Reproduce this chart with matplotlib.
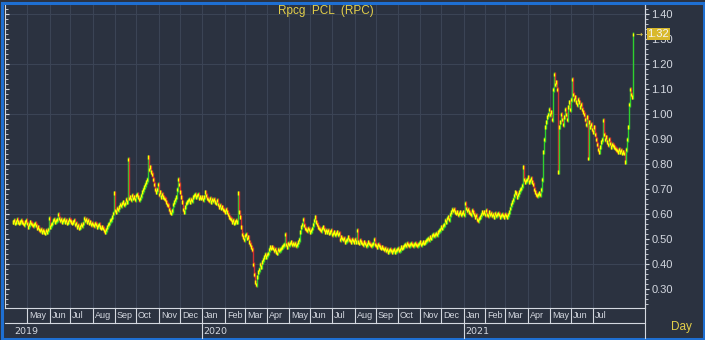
import numpy as np
import pandas as pd
import matplotlib
matplotlib.use("Agg")
import matplotlib.pyplot as plt
from matplotlib.lines import Line2D
from matplotlib.patches import Rectangle
from matplotlib.transforms import blended_transform_factory
from matplotlib.ticker import MultipleLocator, FormatStrFormatter

# daily closes, one per trading day starting 11 Apr 2019
closes = [
    0.57, 0.575, 0.565, 0.57, 0.58, 0.57, 0.565, 0.57, 0.575, 0.57,
    0.565, 0.56, 0.57, 0.575, 0.565, 0.55, 0.56, 0.57, 0.565, 0.56,
    0.555, 0.56, 0.565, 0.555, 0.545, 0.55, 0.54, 0.535, 0.54, 0.53,
    0.535, 0.53, 0.525, 0.535, 0.53, 0.54, 0.585, 0.55, 0.56, 0.565,
    0.575, 0.58, 0.57, 0.575, 0.58, 0.60, 0.585, 0.575, 0.58, 0.57,
    0.575, 0.58, 0.57, 0.575, 0.565, 0.57, 0.58, 0.575, 0.57, 0.565,
    0.57, 0.575, 0.56, 0.565, 0.55, 0.555, 0.545, 0.55, 0.56, 0.555,
    0.565, 0.585, 0.575, 0.58, 0.57, 0.575, 0.565, 0.57, 0.56, 0.565,
    0.56, 0.555, 0.565, 0.56, 0.55, 0.555, 0.56, 0.55, 0.545, 0.55,
    0.545, 0.535, 0.53, 0.54, 0.55, 0.56, 0.565, 0.575, 0.58, 0.59,
    0.605, 0.685, 0.615, 0.61, 0.625, 0.62, 0.63, 0.64, 0.635, 0.645,
    0.65, 0.64, 0.645, 0.66, 0.65, 0.82, 0.665, 0.67, 0.66, 0.675,
    0.665, 0.67, 0.66, 0.675, 0.68, 0.67, 0.66, 0.665, 0.675, 0.69,
    0.70, 0.71, 0.72, 0.73, 0.74, 0.83, 0.78, 0.79, 0.77, 0.76,
    0.74, 0.72, 0.70, 0.69, 0.70, 0.72, 0.68, 0.69, 0.67, 0.68,
    0.67, 0.665, 0.66, 0.65, 0.64, 0.635, 0.62, 0.61, 0.605, 0.615,
    0.64, 0.65, 0.66, 0.67, 0.70, 0.74, 0.72, 0.69, 0.67, 0.65,
    0.62, 0.61, 0.63, 0.645, 0.65, 0.655, 0.66, 0.65, 0.66, 0.655,
    0.67, 0.675, 0.68, 0.67, 0.675, 0.68, 0.665, 0.67, 0.665, 0.67,
    0.66, 0.67, 0.69, 0.675, 0.665, 0.66, 0.655, 0.665, 0.65, 0.66,
    0.655, 0.66, 0.65, 0.645, 0.655, 0.64, 0.63, 0.635, 0.625, 0.63,
    0.62, 0.615, 0.61, 0.62, 0.61, 0.60, 0.59, 0.585, 0.58, 0.57,
    0.575, 0.565, 0.57, 0.575, 0.57, 0.685, 0.61, 0.59, 0.55, 0.52,
    0.51, 0.50, 0.515, 0.52, 0.505, 0.51, 0.49, 0.48, 0.47, 0.46,
    0.40, 0.36, 0.33, 0.32, 0.35, 0.37, 0.38, 0.40, 0.39, 0.41,
    0.42, 0.43, 0.44, 0.43, 0.44, 0.445, 0.46, 0.47, 0.465, 0.47,
    0.465, 0.455, 0.46, 0.45, 0.445, 0.46, 0.455, 0.46, 0.465, 0.47,
    0.475, 0.48, 0.52, 0.48, 0.47, 0.485, 0.48, 0.485, 0.49, 0.48,
    0.485, 0.48, 0.485, 0.475, 0.48, 0.49, 0.50, 0.53, 0.55, 0.56,
    0.58, 0.555, 0.545, 0.54, 0.535, 0.545, 0.54, 0.53, 0.535, 0.545,
    0.56, 0.575, 0.59, 0.57, 0.56, 0.55, 0.545, 0.54, 0.535, 0.545,
    0.55, 0.54, 0.53, 0.535, 0.53, 0.535, 0.525, 0.53, 0.535, 0.52,
    0.525, 0.53, 0.52, 0.525, 0.53, 0.52, 0.525, 0.50, 0.51, 0.505,
    0.50, 0.505, 0.49, 0.495, 0.50, 0.51, 0.50, 0.495, 0.49, 0.50,
    0.495, 0.49, 0.50, 0.49, 0.535, 0.49, 0.485, 0.495, 0.49, 0.485,
    0.48, 0.49, 0.485, 0.475, 0.48, 0.49, 0.485, 0.48, 0.475, 0.48,
    0.485, 0.50, 0.48, 0.475, 0.47, 0.48, 0.475, 0.47, 0.465, 0.47,
    0.465, 0.46, 0.465, 0.455, 0.46, 0.45, 0.455, 0.46, 0.455, 0.45,
    0.455, 0.46, 0.45, 0.455, 0.46, 0.465, 0.455, 0.46, 0.47, 0.465,
    0.47, 0.475, 0.48, 0.475, 0.485, 0.48, 0.475, 0.48, 0.485, 0.48,
    0.475, 0.48, 0.485, 0.48, 0.475, 0.48, 0.485, 0.49, 0.48, 0.485,
    0.49, 0.485, 0.49, 0.495, 0.50, 0.505, 0.50, 0.51, 0.505, 0.515,
    0.52, 0.515, 0.52, 0.525, 0.52, 0.53, 0.535, 0.54, 0.55, 0.545,
    0.555, 0.56, 0.575, 0.57, 0.585, 0.59, 0.58, 0.60, 0.61, 0.62,
    0.615, 0.62, 0.61, 0.605, 0.61, 0.60, 0.605, 0.61, 0.60, 0.605,
    0.61, 0.60, 0.645, 0.625, 0.615, 0.62, 0.61, 0.605, 0.60, 0.615,
    0.61, 0.60, 0.59, 0.595, 0.58, 0.575, 0.585, 0.59, 0.60, 0.61,
    0.605, 0.61, 0.60, 0.615, 0.60, 0.595, 0.61, 0.60, 0.605, 0.595,
    0.60, 0.59, 0.605, 0.595, 0.60, 0.605, 0.60, 0.59, 0.595, 0.60,
    0.595, 0.59, 0.60, 0.595, 0.59, 0.60, 0.61, 0.625, 0.64, 0.65,
    0.66, 0.675, 0.69, 0.685, 0.67, 0.68, 0.69, 0.70, 0.705, 0.715,
    0.79, 0.74, 0.73, 0.735, 0.74, 0.75, 0.73, 0.735, 0.745, 0.73,
    0.72, 0.70, 0.69, 0.68, 0.675, 0.68, 0.685, 0.68, 0.70, 0.74,
    0.85, 0.90, 0.95, 0.97, 0.99, 1.00, 1.02, 1.00, 1.01, 0.98,
    1.10, 1.16, 1.12, 1.13, 1.10, 0.77, 0.95, 0.97, 1.00, 0.98,
    0.96, 0.99, 1.02, 1.00, 0.98, 1.03, 1.05, 1.02, 1.06, 1.14,
    1.08, 1.06, 1.07, 1.05, 1.04, 1.06, 1.05, 1.03, 1.04, 1.02,
    1.01, 1.00, 0.98, 0.96, 0.99, 0.825, 0.97, 0.95, 0.96, 0.94,
    0.93, 0.95, 0.92, 0.90, 0.88, 0.86, 0.85, 0.87, 0.89, 0.90,
    0.975, 0.92, 0.90, 0.91, 0.89, 0.88, 0.90, 0.885, 0.87, 0.88,
    0.875, 0.87, 0.865, 0.86, 0.855, 0.85, 0.86, 0.85, 0.855, 0.845,
    0.85, 0.845, 0.81, 0.86, 0.90, 0.95, 1.04, 1.10, 1.08, 1.07,
    1.32,
]
start_date = "2019-04-11"
first_month, last_month = "2019-05-01", "2021-07-01"
last_price = 1.32
title = "Rpcg  PCL  (RPC)"
right_ticks = [0.30, 0.40, 0.50, 0.60, 0.70, 0.80, 0.90, 1.00, 1.10, 1.20, 1.30, 1.40]

dates = pd.bdate_range(start_date, periods=len(closes))
x = np.arange(len(closes))
c = np.array(closes)
prev = np.r_[c[0], c[:-1]]

BG = "#2b3240"
GRID = "#3b4455"
BLUE = "#1e6fd2"
GREEN = "#2ed12e"
RED = "#d22f2f"
YELLOW = "#ffff00"
GOLD = "#e3cf4a"
LIGHT = "#d4d8e0"

plt.rcParams["font.family"] = ["Liberation Sans", "DejaVu Sans"]
W, H = 705, 340
fig = plt.figure(figsize=(W / 100, H / 100), dpi=100, facecolor=BG)
ax = fig.add_axes([5 / W, 1 - 308 / H, 640 / W, 303 / H])
ax.set_facecolor(BG)
ax.set_xlim(-8, 632)
ax.set_ylim(0.224, 1.436)

# grid: month starts and every 0.2
month_starts = pd.date_range(first_month, last_month, freq="MS")
month_idx = dates.searchsorted(month_starts)
for m in month_idx:
    ax.axvline(m, color=GRID, lw=0.8, zorder=0)
for v in np.arange(0.4, 1.41, 0.2):
    ax.axhline(v, color=GRID, lw=0.8, zorder=0)

# bars: move from previous close, coloured by direction, close marked yellow
cols = np.where(c > prev, GREEN, np.where(c < prev, RED, YELLOW))
ax.vlines(x, np.minimum(prev, c) - 0.010, np.maximum(prev, c) + 0.008,
          colors=cols, lw=1.0, zorder=2)
ax.vlines(x, c - 0.008, c + 0.005, colors=YELLOW, lw=1.0, zorder=3)

# left axis: ticks only, pointing in
for s in ["top", "right"]:
    ax.spines[s].set_visible(False)
ax.spines["left"].set_color(LIGHT)
ax.spines["bottom"].set_color(LIGHT)
ax.yaxis.set_major_locator(MultipleLocator(0.1))
ax.yaxis.set_minor_locator(MultipleLocator(0.02))
ax.tick_params(axis="y", which="major", direction="in", length=3, color=LIGHT, labelleft=False)
ax.tick_params(axis="y", which="minor", direction="in", length=2, color=LIGHT)
ax.set_xticks([])

# right axis with labels
ax2 = ax.twinx()
ax2.set_ylim(ax.get_ylim())
for s in ["top", "left", "bottom"]:
    ax2.spines[s].set_visible(False)
ax2.spines["right"].set_color(LIGHT)
ax2.set_yticks(right_ticks)
ax2.yaxis.set_major_formatter(FormatStrFormatter("%.2f"))
ax2.yaxis.set_minor_locator(MultipleLocator(0.02))
ax2.tick_params(axis="y", which="major", direction="out", length=3, color=LIGHT,
                labelcolor=LIGHT, labelsize=8, pad=1.5)
ax2.tick_params(axis="y", which="minor", direction="out", length=2, color=LIGHT)

# last price marker
ax2.text(1.004, last_price, f"{last_price:.2f}",
         transform=blended_transform_factory(ax2.transAxes, ax2.transData),
         color="#f4f4f4", fontsize=8, ha="left", va="center",
         bbox=dict(facecolor="#d9b92c", edgecolor="none", pad=0.6), zorder=5)
ax.text(len(closes) + 1, last_price, "\u2192", color=GOLD, fontsize=6,
        ha="left", va="center", family="DejaVu Sans")

# month / year bands under the plot
trans = blended_transform_factory(ax.transData, fig.transFigure)
fy = lambda py: 1 - py / H
fx = lambda px: px / W
for m, d in zip(month_idx, month_starts):
    fig.add_artist(Line2D([m, m], [fy(308), fy(323)], transform=trans, color=LIGHT, lw=0.8))
    fig.text(m + 2, fy(316), d.strftime("%b"), transform=trans, color=LIGHT,
             fontsize=6.5, ha="left", va="center")
fig.add_artist(Line2D([fx(5), fx(645)], [fy(323), fy(323)], color=LIGHT, lw=0.8))
fig.add_artist(Line2D([fx(645), fx(645)], [fy(5), fy(338)], color=LIGHT, lw=0.8))
fig.text(fx(14), fy(331), "2019", color=LIGHT, fontsize=6.8, ha="left", va="center",
         family="DejaVu Sans")
for m, d in zip(month_idx, month_starts):
    if d.month == 1:
        fig.add_artist(Line2D([m, m], [fy(323), fy(338)], transform=trans, color=LIGHT, lw=0.8))
        fig.text(m + 1, fy(331), str(d.year), transform=trans, color=LIGHT,
                 fontsize=6.8, ha="left", va="center", family="DejaVu Sans")

fig.text(fx(326), fy(11), title, color=GOLD, fontsize=8.5, ha="center", va="center")
fig.text(fx(681), fy(327), "Day", color=GOLD, fontsize=8.5, ha="center", va="center")

# blue outer frame
fig.add_artist(Rectangle((fx(1.5), fy(338.5)), fx(702), 1 - fy(336), transform=fig.transFigure,
                         fill=False, edgecolor=BLUE, lw=2.2))

fig.savefig("out.png", dpi=100, facecolor=BG)
